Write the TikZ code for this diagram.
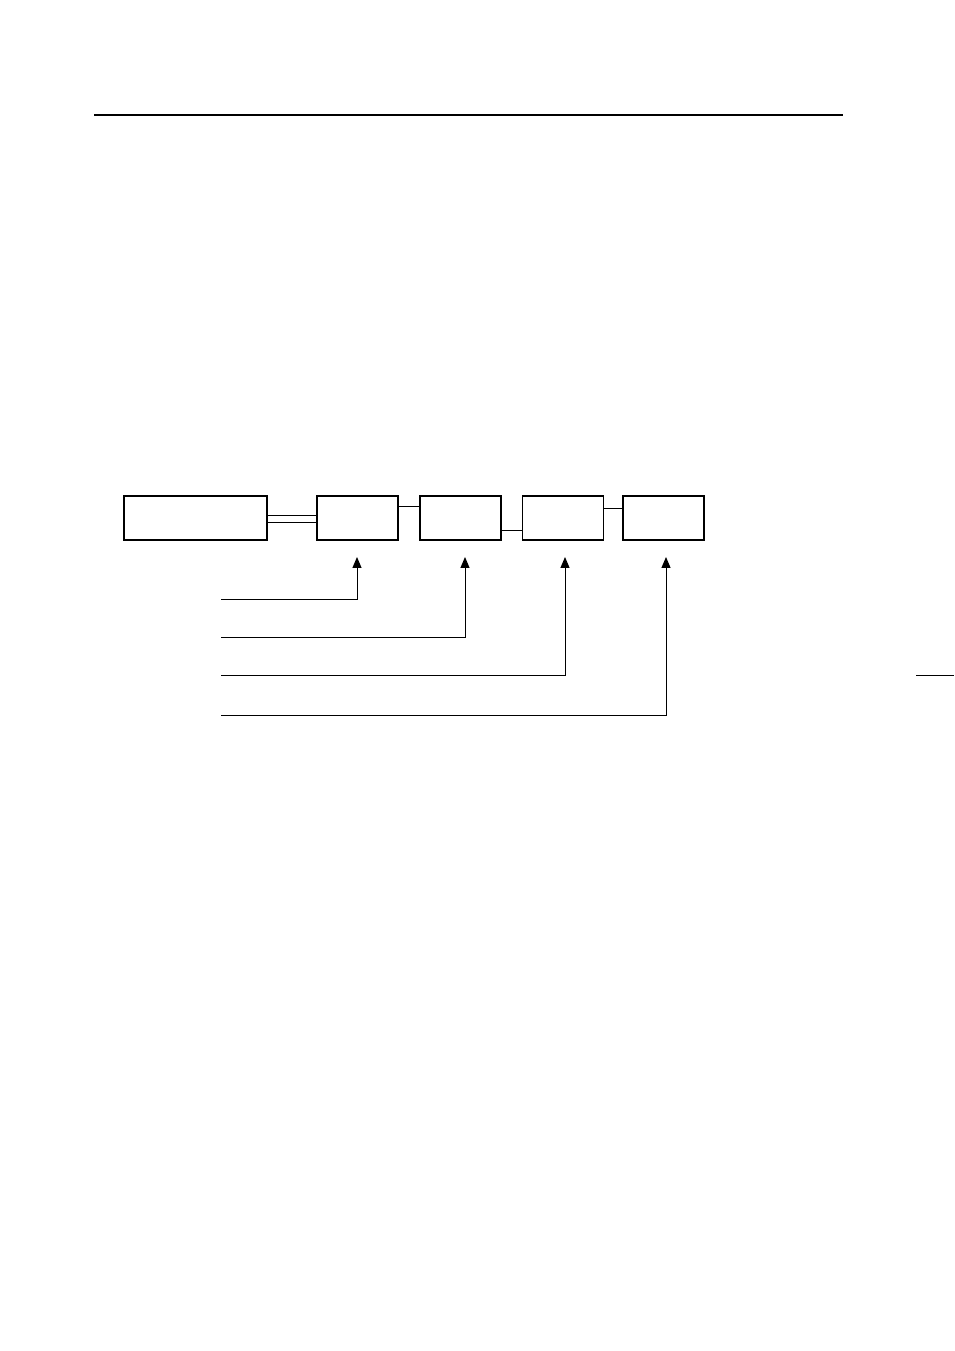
\documentclass[tikz,border=0pt]{standalone}
\usetikzlibrary{arrows.meta}
\begin{document}
\begin{tikzpicture}[x=0.22mm,y=-0.22mm,
  unit/.style={draw,line width=0.8pt,inner sep=0pt,minimum width=17.8mm,minimum height=9.7mm},
  feed/.style={line width=0.6pt,-{Triangle[length=6.8pt,width=5.6pt]}}]
\useasboundingbox (0,0) rectangle (954,1351);

% Header rule
\draw[line width=1.3pt] (94,115) -- (843,115);

% Units
\node[unit,minimum width=31.5mm] (host) at (195.5,518) {};
\node[unit] (u1) at (357.5,518) {};
\node[unit] (u2) at (460.5,518) {};
\node[unit] (u3) at (563,518) {};
\node[unit] (u4) at (663.5,518) {};

% Links between units
\draw[line width=0.6pt] (host.east |- 0,515) -- (u1.west |- 0,515);
\draw[line width=0.6pt] (host.east |- 0,522) -- (u1.west |- 0,522);
\draw[line width=0.6pt] (u1.east |- 0,506) -- (u2.west |- 0,506);
\draw[line width=0.6pt] (u2.east |- 0,530) -- (u3.west |- 0,530);
\draw[line width=0.6pt] (u3.east |- 0,508) -- (u4.west |- 0,508);

% Feed lines
\foreach \n/\x/\y in {1/357/599, 2/465/637, 3/565/675, 4/666/715} {
    \coordinate (s\n) at (221,\y);
    \coordinate (t\n) at (\x,557);
    \draw[feed] (s\n) -| (t\n);
}

% Margin mark
\draw[line width=0.6pt] (916,675) -- (954,675);
\end{tikzpicture}
\end{document}
